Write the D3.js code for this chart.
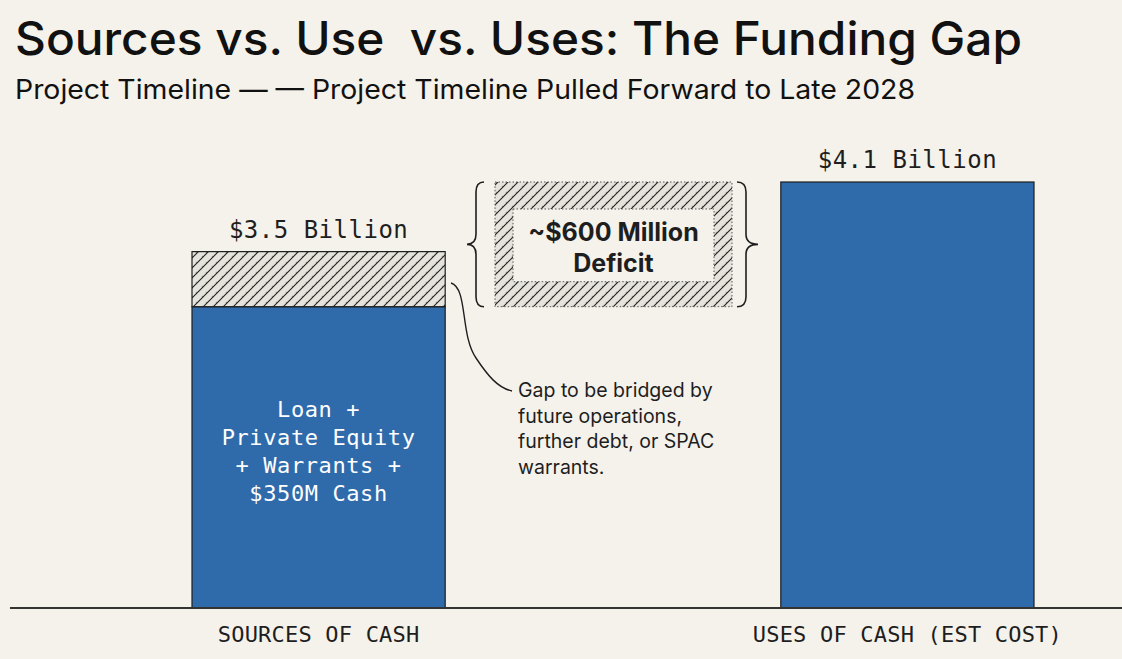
<!DOCTYPE html>
<html>
<head>
<meta charset="utf-8">
<script src="https://cdn.jsdelivr.net/npm/d3@7"></script>
<style>
  html, body { margin: 0; padding: 0; background: #f5f2eb; }
  svg { display: block; }
</style>
</head>
<body>
<script>
// data
var categories = ['SOURCES OF CASH', 'USES OF CASH (EST COST)']
var solidValues = [2.9, 4.1]      // billions, blue part
var gapValues = [0.53, 0]         // billions, hatched part on top
var valueLabels = ['$3.5 Billion', '$4.1 Billion']
var sourceLines = ['Loan +', 'Private Equity', '+ Warrants +', '$350M Cash']
var deficitLines = ['~$600 Million', 'Deficit']
var noteLines = ['Gap to be bridged by', 'future operations,', 'further debt, or SPAC', 'warrants.']

var w = 1122, h = 659
var blue = '#2f6bab', ink = '#1e1e1e', bg = '#f5f2eb'
var mono = '"DejaVu Sans Mono", "Liberation Mono", monospace'
var sans = 'Inter, "Noto Sans", Roboto, sans-serif'

var svg = d3.select('body').append('svg')
    .attr('width', w)
    .attr('height', h)

svg.append('rect').attr('width', w).attr('height', h).attr('fill', bg)

// hatch pattern (dotted grey + diagonal lines)
var defs = svg.append('defs')
var pat = defs.append('pattern')
    .attr('id', 'hatch')
    .attr('patternUnits', 'userSpaceOnUse')
    .attr('width', 10).attr('height', 10)
pat.append('rect').attr('width', 10).attr('height', 10).attr('fill', '#e6e3dc')
pat.append('circle').attr('cx', 2.5).attr('cy', 6.5).attr('r', 0.8).attr('fill', '#9a9892')
pat.append('circle').attr('cx', 6.5).attr('cy', 2.5).attr('r', 0.8).attr('fill', '#9a9892')
pat.append('path').attr('d', 'M-1,11 L11,-1 M-1,1 L1,-1 M9,11 L11,9')
    .attr('stroke', '#222').attr('stroke-width', 1.1)

// scales
var x = d3.scaleBand().domain(categories).range([192, 1034]).paddingInner(0.57).paddingOuter(0)
var y = d3.scaleLinear().domain([0, 4.1]).range([608, 182])

function bx(i) { return x(categories[i]) }

// bars
var g = svg.append('g')
categories.forEach(function(c, i) {
    g.append('rect')
        .attr('x', bx(i)).attr('y', y(solidValues[i]))
        .attr('width', x.bandwidth()).attr('height', y(0) - y(solidValues[i]))
        .attr('fill', blue).attr('stroke', ink).attr('stroke-width', 1.2)
    if (gapValues[i] > 0) {
        g.append('rect')
            .attr('x', bx(i)).attr('y', y(solidValues[i] + gapValues[i]))
            .attr('width', x.bandwidth()).attr('height', y(solidValues[i]) - y(solidValues[i] + gapValues[i]))
            .attr('fill', 'url(#hatch)').attr('stroke', ink).attr('stroke-width', 1.2)
    }
    // value label
    svg.append('text')
        .attr('x', bx(i) + x.bandwidth() / 2)
        .attr('y', y(solidValues[i] + gapValues[i]) - 14)
        .attr('text-anchor', 'middle')
        .attr('font-family', mono).attr('font-size', 24).attr('letter-spacing', 0.5)
        .attr('fill', ink)
        .text(valueLabels[i])
    // category label
    svg.append('text')
        .attr('x', bx(i) + x.bandwidth() / 2)
        .attr('y', 642)
        .attr('text-anchor', 'middle')
        .attr('font-family', mono).attr('font-size', 22).attr('letter-spacing', 0.2)
        .attr('fill', ink)
        .text(categories[i])
})

// baseline
svg.append('line')
    .attr('x1', 10).attr('x2', w).attr('y1', y(0)).attr('y2', y(0))
    .attr('stroke', '#333').attr('stroke-width', 2)

// text inside sources bar
var cx0 = bx(0) + x.bandwidth() / 2
svg.append('g').selectAll('text').data(sourceLines).enter().append('text')
    .attr('x', cx0)
    .attr('y', function(d, i) { return 417 + i * 28 })
    .attr('text-anchor', 'middle')
    .attr('font-family', mono).attr('font-size', 22).attr('letter-spacing', 0.6)
    .attr('fill', '#fff')
    .text(function(d) { return d })

// deficit box between the bars
var dx0 = 495, dx1 = 732
var dy0 = y(4.1), dy1 = y(solidValues[0])
svg.append('rect')
    .attr('x', dx0).attr('y', dy0).attr('width', dx1 - dx0).attr('height', dy1 - dy0)
    .attr('fill', 'url(#hatch)').attr('stroke', '#555').attr('stroke-width', 1)
    .attr('stroke-dasharray', '1.5,2')
svg.append('rect')
    .attr('x', dx0 + 18).attr('y', dy0 + 27).attr('width', dx1 - dx0 - 36).attr('height', dy1 - dy0 - 52)
    .attr('fill', bg).attr('stroke', '#555').attr('stroke-width', 1)
    .attr('stroke-dasharray', '1.5,2')
svg.append('g').selectAll('text').data(deficitLines).enter().append('text')
    .attr('x', (dx0 + dx1) / 2)
    .attr('y', function(d, i) { return 241 + i * 31 })
    .attr('text-anchor', 'middle')
    .attr('font-family', sans).attr('font-weight', 700).attr('font-size', 25)
    .attr('fill', ink)
    .text(function(d) { return d })

// curly braces
function brace(xEdge, xMid, xTip, y0, y1) {
    var ym = (y0 + y1) / 2
    return 'M' + xEdge + ',' + y0 +
        ' Q' + xMid + ',' + y0 + ' ' + xMid + ',' + (y0 + 10) +
        ' L' + xMid + ',' + (ym - 10) +
        ' Q' + xMid + ',' + ym + ' ' + xTip + ',' + ym +
        ' Q' + xMid + ',' + ym + ' ' + xMid + ',' + (ym + 10) +
        ' L' + xMid + ',' + (y1 - 10) +
        ' Q' + xMid + ',' + y1 + ' ' + xEdge + ',' + y1
}
svg.append('path').attr('d', brace(484, 476, 467, dy0, dy1))
    .attr('fill', 'none').attr('stroke', ink).attr('stroke-width', 1.6)
svg.append('path').attr('d', brace(737, 746, 758, dy0, dy1))
    .attr('fill', 'none').attr('stroke', ink).attr('stroke-width', 1.6)

// annotation leader + note
svg.append('path')
    .attr('d', 'M451,283 C468,288 460,335 476,358 C488,376 498,388 512,391')
    .attr('fill', 'none').attr('stroke', ink).attr('stroke-width', 1.4)
svg.append('g').selectAll('text').data(noteLines).enter().append('text')
    .attr('x', 518)
    .attr('y', function(d, i) { return 397 + i * 25.5 })
    .attr('font-family', sans).attr('font-size', 19.5)
    .attr('fill', ink)
    .text(function(d) { return d })

// title + subtitle
svg.append('text')
    .attr('x', 15).attr('y', 55)
    .attr('font-family', sans).attr('font-weight', 500).attr('font-size', 46)
    .attr('textLength', 1007).attr('lengthAdjust', 'spacingAndGlyphs')
    .attr('fill', '#111')
    .text('Sources vs. Use\u00a0\u00a0vs. Uses: The Funding Gap')
svg.append('text')
    .attr('x', 15).attr('y', 99)
    .attr('font-family', sans).attr('font-size', 27)
    .attr('textLength', 900).attr('lengthAdjust', 'spacingAndGlyphs')
    .attr('fill', '#111')
    .text('Project Timeline \u2014 \u2014 Project Timeline Pulled Forward to Late 2028')
</script>
</body>
</html>
